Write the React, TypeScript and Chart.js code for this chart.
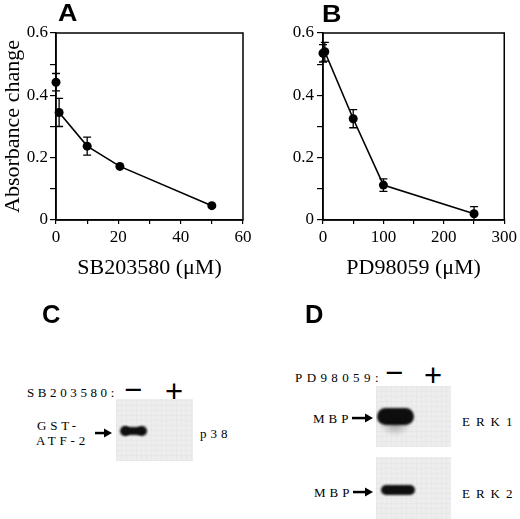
import React, { useEffect, useRef } from "react";
import { Chart, registerables } from "chart.js";

Chart.register(...registerables);

const SERIF = "'Liberation Serif', 'Times New Roman', serif";
const SANS = "'Liberation Sans', Arial, sans-serif";

Chart.defaults.font.family = SERIF;
Chart.defaults.color = "#000";

// ---- Panel A data (SB203580) ----
const aXLine = [1, 10, 20.5, 50];
const aYLine = [0.345, 0.237, 0.172, 0.046];
const aErrLine = [0.045, 0.029, 0, 0];
const aXSingle = [0];
const aYSingle = [0.442];
const aErrSingle = [0.028];
const aXTickLabels = [0, 20, 40, 60];

// ---- Panel B data (PD98059) ----
const bX = [0, 3, 50, 100, 250];
const bY = [0.535, 0.54, 0.325, 0.112, 0.02];
const bErr = [0.028, 0.03, 0.029, 0.02, 0.023];
const bXTickLabels = [0, 100, 200, 300];

const yTickLabels = [0, 0.2, 0.4, 0.6];

const toPoints = (xs: number[], ys: number[]) => xs.map((x, i) => ({ x, y: ys[i] }));

const decorPlugin = {
  id: "decor",
  beforeDatasetsDraw(chart: any) {
    const { ctx, scales } = chart;
    const xs = scales.x;
    const ys = scales.y;
    ctx.save();
    ctx.strokeStyle = "#000";
    ctx.lineWidth = 1.3;
    chart.data.datasets.forEach((ds: any) => {
      if (!ds.errors) return;
      ds.data.forEach((p: any, i: number) => {
        const e = ds.errors[i];
        if (!e) return;
        const px = xs.getPixelForValue(p.x);
        const lo = Math.max(p.y - e, ys.min);
        const y1 = ys.getPixelForValue(p.y + e);
        const y2 = ys.getPixelForValue(lo);
        ctx.beginPath();
        ctx.moveTo(px, y1);
        ctx.lineTo(px, y2);
        ctx.moveTo(px - 4, y1);
        ctx.lineTo(px + 4, y1);
        if (lo > ys.min) {
          ctx.moveTo(px - 4, y2);
          ctx.lineTo(px + 4, y2);
        }
        ctx.stroke();
      });
    });
    ctx.restore();
  },
  afterDraw(chart: any) {
    const { ctx, chartArea: ca } = chart;
    ctx.save();
    ctx.strokeStyle = "#000";
    ctx.lineWidth = 1.5;
    ctx.strokeRect(ca.left, ca.top, ca.right - ca.left, ca.bottom - ca.top);
    ctx.restore();
  },
};

function buildConfig(p: {
  datasets: any[];
  xMax: number;
  xStep: number;
  xLabels: number[];
  xTitle: string;
  yTitle: string;
  yWidth: number;
  xTitlePad: number;
  padRight: number;
  yTickPad: number;
}) {
  return {
    type: "scatter",
    data: { datasets: p.datasets },
    plugins: [decorPlugin],
    options: {
      responsive: false,
      animation: false,
      devicePixelRatio: 1,
      layout: { padding: { top: 33, right: p.padRight, left: 0, bottom: 0 } },
      plugins: { legend: { display: false }, tooltip: { enabled: false } },
      scales: {
        x: {
          type: "linear",
          min: 0,
          max: p.xMax,
          ticks: {
            stepSize: p.xStep,
            autoSkip: false,
            maxRotation: 0,
            padding: 3,
            color: "#000",
            font: { size: 17, family: SERIF },
            callback: (v: number) => (p.xLabels.includes(v) ? String(v) : ""),
          },
          grid: { drawOnChartArea: false, drawTicks: true, tickLength: 4, color: "#000", lineWidth: 1.2 },
          border: { display: true, color: "#000", width: 1.5 },
          title: {
            display: true,
            text: p.xTitle,
            color: "#000",
            font: { size: 22, family: SERIF },
            padding: { top: 0, bottom: p.xTitlePad },
          },
          afterFit: (s: any) => {
            s.height = 70;
          },
        },
        y: {
          type: "linear",
          min: 0,
          max: 0.6,
          ticks: {
            stepSize: 0.1,
            autoSkip: false,
            padding: p.yTickPad,
            color: "#000",
            font: { size: 17, family: SERIF },
            callback: (v: number) => {
              const hit = yTickLabels.find((t) => Math.abs(t - v) < 1e-6);
              if (hit === undefined) return "";
              return hit === 0 ? "0" : hit.toFixed(1);
            },
          },
          grid: { drawOnChartArea: false, drawTicks: true, tickLength: 6, color: "#000", lineWidth: 1.2 },
          border: { display: true, color: "#000", width: 1.5 },
          title: {
            display: !!p.yTitle,
            text: p.yTitle,
            color: "#000",
            font: { size: 22, family: SERIF },
            padding: { top: 0, bottom: 0 },
          },
          afterFit: (s: any) => {
            s.width = p.yWidth;
          },
        },
      },
    },
  };
}

const lineStyle = {
  borderColor: "#000",
  backgroundColor: "#000",
  borderWidth: 1.6,
  pointRadius: 4.5,
  pointBorderWidth: 0,
  pointBackgroundColor: "#000",
  clip: false,
};

function PlotCanvas({ makeConfig, left, top, width, height }: any) {
  const ref = useRef<HTMLCanvasElement>(null);
  useEffect(() => {
    const chart = new Chart(ref.current as HTMLCanvasElement, makeConfig());
    return () => chart.destroy();
  }, []);
  return (
    <canvas
      ref={ref}
      width={width}
      height={height}
      style={{ position: "absolute", left, top, width, height }}
    />
  );
}

function T({ x, cy, size, text, family = SERIF, weight = 400, ls = 0, anchor = "left", sx = 1 }: any) {
  const style: any = {
    position: "absolute",
    top: cy - size / 2,
    fontSize: size,
    lineHeight: `${size}px`,
    fontFamily: family,
    fontWeight: weight,
    letterSpacing: ls,
    whiteSpace: "nowrap",
    color: "#000",
    transform: sx !== 1 ? `scaleX(${sx})` : undefined,
    transformOrigin: "left center",
  };
  if (anchor === "left") {
    style.left = x;
  } else {
    style.left = x - 50;
    style.width = 100;
    style.textAlign = "center";
  }
  return <div style={style}>{text}</div>;
}

function Arrow({ x1, x2, y }: any) {
  const w = x2 - x1;
  return (
    <svg style={{ position: "absolute", left: x1, top: y - 5 }} width={w} height={10}>
      <rect x={0} y={3.8} width={w - 6} height={2.5} fill="#000" />
      <polygon points={`${w - 8},0.5 ${w},5 ${w - 8},9.5`} fill="#000" />
    </svg>
  );
}

const blotBg =
  "repeating-linear-gradient(0deg, rgba(0,0,0,0.018) 0 1px, transparent 1px 5px), repeating-linear-gradient(90deg, rgba(0,0,0,0.018) 0 1px, transparent 1px 5px)";

function Blot({ x, y, w, h, children }: any) {
  return (
    <div
      style={{
        position: "absolute",
        left: x,
        top: y,
        width: w,
        height: h,
        backgroundColor: "#ededed",
        backgroundImage: blotBg,
        overflow: "hidden",
      }}
    >
      {children}
    </div>
  );
}

function Band({ x, y, w, h, r, blur = 0.8, bg = "#0e0e0e" }: any) {
  return (
    <div
      style={{
        position: "absolute",
        left: x,
        top: y,
        width: w,
        height: h,
        borderRadius: r,
        background: bg,
        filter: `blur(${blur}px)`,
      }}
    />
  );
}

export default function App() {
  const makeA = () =>
    buildConfig({
      datasets: [
        { ...lineStyle, data: toPoints(aXLine, aYLine), errors: aErrLine, showLine: true },
        { ...lineStyle, data: toPoints(aXSingle, aYSingle), errors: aErrSingle, showLine: false },
      ],
      xMax: 60,
      xStep: 10,
      xLabels: aXTickLabels,
      xTitle: "SB203580 (\u03bcM)",
      yTitle: "Absorbance change",
      yWidth: 56,
      xTitlePad: 9,
      padRight: 17,
      yTickPad: 2,
    });
  const makeB = () =>
    buildConfig({
      datasets: [{ ...lineStyle, data: toPoints(bX, bY), errors: bErr, showLine: true }],
      xMax: 300,
      xStep: 50,
      xLabels: bXTickLabels,
      xTitle: "PD98059 (\u03bcM)",
      yTitle: "",
      yWidth: 63,
      xTitlePad: 9,
      padRight: 12,
      yTickPad: 3,
    });

  const lab = { size: 13, ls: 4 };
  return (
    <div
      style={{
        position: "absolute",
        left: 0,
        top: 0,
        width: 520,
        height: 519,
        background: "#fff",
        overflow: "hidden",
      }}
    >
      <PlotCanvas makeConfig={makeA} left={0} top={0} width={260} height={290} />
      <PlotCanvas makeConfig={makeB} left={260} top={0} width={260} height={290} />

      <T x={58} cy={13.4} size={24} text="A" family={SANS} weight={700} sx={1.12} />
      <T x={322} cy={13.5} size={24} text="B" family={SANS} weight={700} sx={1.12} />
      <T x={42} cy={314} size={25} text="C" family={SANS} weight={700} sx={1.02} />
      <T x={305} cy={314} size={25} text="D" family={SANS} weight={700} sx={1.02} />

      {/* Panel C */}
      <T x={27} cy={392} size={lab.size} ls={3.6} text="SB203580:" />
      <T x={133} cy={389} size={31} text={"\u2212"} family={SANS} anchor="center" />
      <T x={174} cy={391.5} size={31} text="+" family={SANS} anchor="center" />
      <T x={37} cy={425} size={lab.size} ls={3.8} text="GST-" />
      <T x={36} cy={440} size={lab.size} ls={3.8} text="ATF-2" />
      <Arrow x1={95} x2={112} y={433} />
      <Blot x={116} y={399} w={77} h={62}>
        <Band x={4} y={26.5} w={10} h={10} r={5} />
        <Band x={21} y={26.5} w={10} h={10} r={5} />
        <Band x={7} y={27.5} w={19} h={8} r={3} />
      </Blot>
      <T x={200} cy={433} size={lab.size} ls={lab.ls} text="p38" />

      {/* Panel D */}
      <T x={295} cy={377} size={lab.size} ls={4.4} text="PD98059:" />
      <T x={394} cy={372.5} size={31} text={"\u2212"} family={SANS} anchor="center" />
      <T x={433} cy={375} size={31} text="+" family={SANS} anchor="center" />
      <Blot x={376} y={386} w={75} h={61}>
        <Band x={0.5} y={22} w={37} h={17} r={8.5} />
        <div
          style={{
            position: "absolute",
            left: 3,
            top: 34,
            width: 32,
            height: 16,
            background: "radial-gradient(ellipse at 50% 30%, rgba(0,0,0,0.3), rgba(0,0,0,0) 70%)",
            filter: "blur(1.5px)",
          }}
        />
      </Blot>
      <T x={313} cy={418} size={lab.size} ls={lab.ls} text="MBP" />
      <Arrow x1={352} x2={373} y={418} />
      <T x={462} cy={421} size={lab.size} ls={6} text="ERK1" />

      <Blot x={376} y={457} w={75} h={62}>
        <Band x={5} y={28} w={34} h={10} r={5} />
      </Blot>
      <T x={314} cy={492} size={lab.size} ls={lab.ls} text="MBP" />
      <Arrow x1={353} x2={373} y={492} />
      <T x={462} cy={493} size={lab.size} ls={6} text="ERK2" />
    </div>
  );
}
